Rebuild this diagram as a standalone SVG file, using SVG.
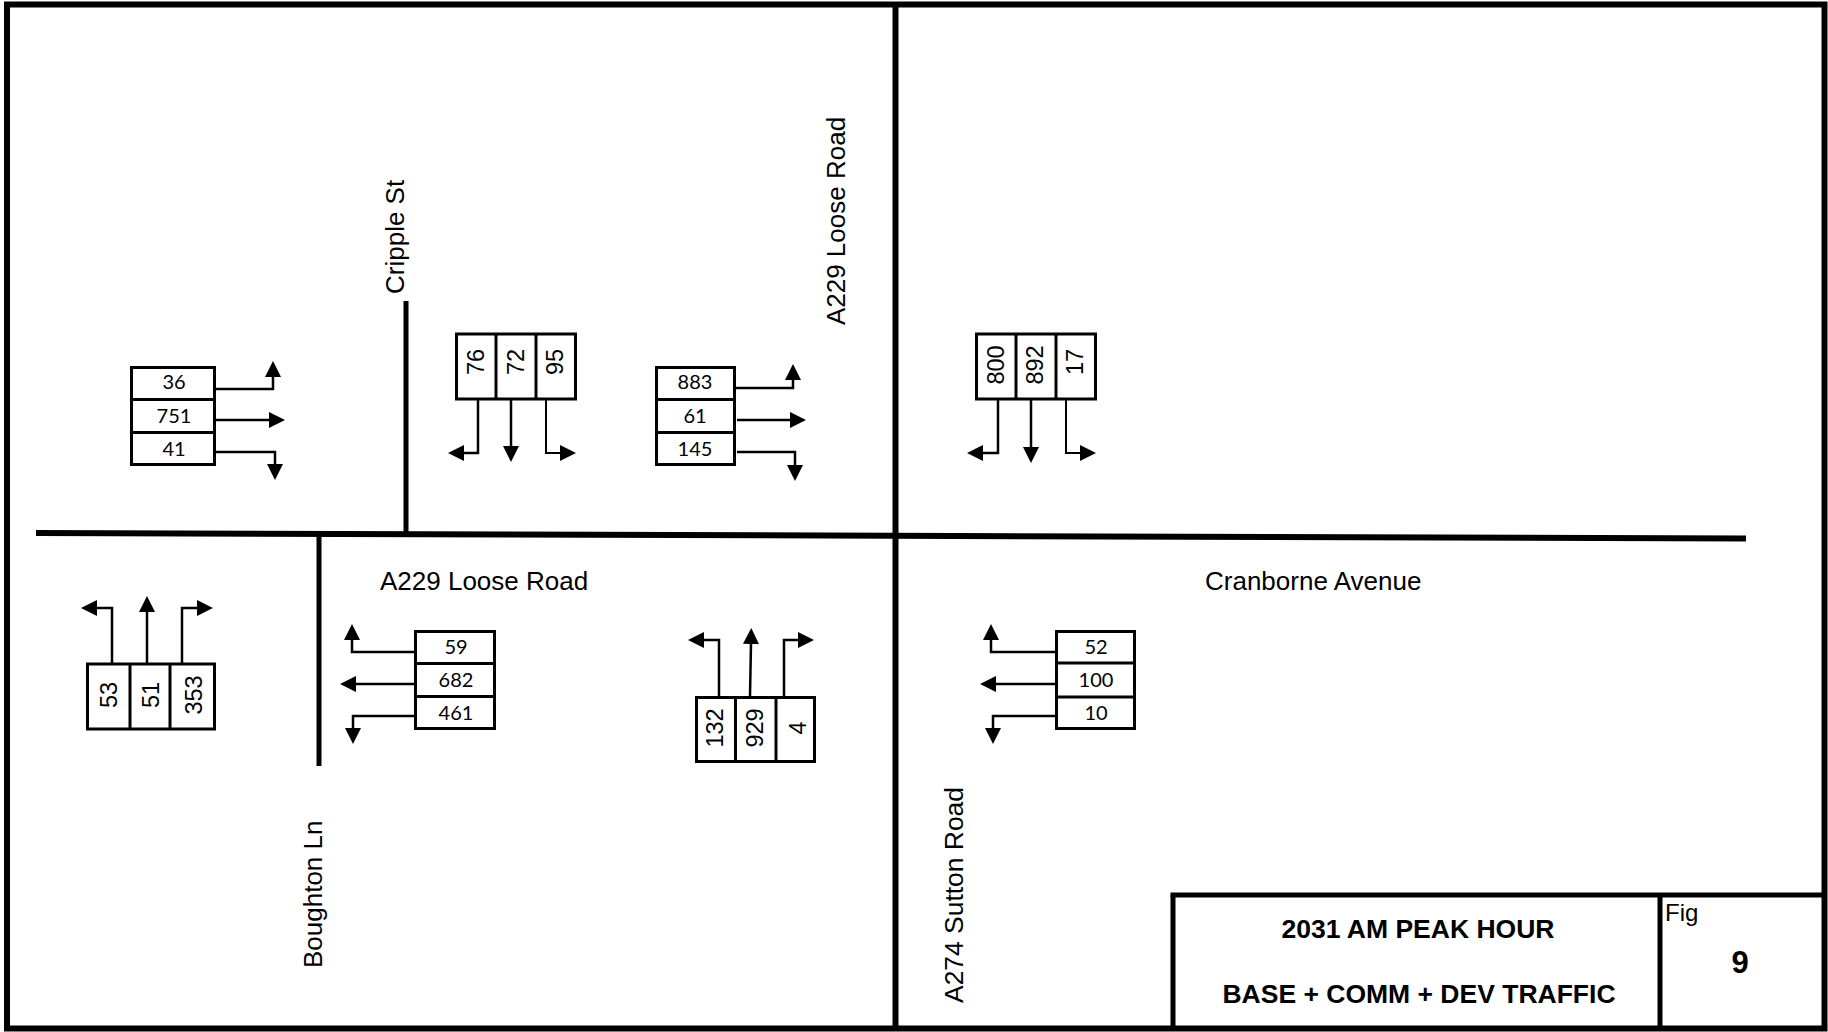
<svg xmlns="http://www.w3.org/2000/svg" width="1828" height="1032" viewBox="0 0 1828 1032">
<style>
.road{stroke:#000;fill:none;stroke-linecap:butt}
.box{fill:#fff;stroke:#000;stroke-width:3}
.div{stroke:#000;stroke-width:3}
.arr{fill:none;stroke:#000;stroke-width:2.5;marker-end:url(#ah)}
.nh{font-family:Lato,"Liberation Sans",sans-serif;font-size:20px;text-anchor:middle;fill:#000}
.nv{font-family:"Liberation Sans",Arial,sans-serif;font-size:23.5px;text-anchor:middle;fill:#000}
.lbl{font-family:"Liberation Sans",Arial,sans-serif;font-size:26px;fill:#000}
.tb{font-family:"Liberation Sans",Arial,sans-serif;font-weight:bold;fill:#000;text-anchor:middle}
</style>
<defs>
<marker id="ah" viewBox="0 0 16 16" refX="1" refY="8" markerWidth="16" markerHeight="16" markerUnits="userSpaceOnUse" orient="auto">
<path d="M0,0 L16,8 L0,16 Z" fill="#000"/>
</marker>
</defs>
<rect width="1828" height="1032" fill="#fff"/>

<g id="roads">
<rect class="road" x="7" y="4.5" width="1817.5" height="1024" stroke-width="6"/>
<line class="road" x1="895.5" y1="4" x2="895.5" y2="1028" stroke-width="6"/>
<line class="road" x1="36" y1="533" x2="1746" y2="538.5" stroke-width="6"/>
<line class="road" x1="406" y1="301" x2="406" y2="533" stroke-width="5"/>
<line class="road" x1="319" y1="536" x2="319" y2="766" stroke-width="5"/>
</g>

<g id="labels">
<text class="lbl" transform="translate(404,294) rotate(-90)">Cripple St</text>
<text class="lbl" transform="translate(845,221) rotate(-90)" text-anchor="middle">A229 Loose Road</text>
<text class="lbl" transform="translate(322,968) rotate(-90)">Boughton Ln</text>
<text class="lbl" transform="translate(963,1003) rotate(-90)" textLength="216" lengthAdjust="spacingAndGlyphs">A274 Sutton Road</text>
<text class="lbl" x="380" y="590">A229 Loose Road</text>
<text class="lbl" x="1205" y="590">Cranborne Avenue</text>
</g>

<g id="box1">
<rect class="box" x="131.5" y="367.5" width="83" height="97"/>
<line class="div" x1="131.5" y1="399.5" x2="214.5" y2="399.5"/>
<line class="div" x1="131.5" y1="432.5" x2="214.5" y2="432.5"/>
<text class="nh" x="174" y="389">36</text>
<text class="nh" x="174" y="423">751</text>
<text class="nh" x="174" y="456">41</text>
</g>

<g id="box2">
<rect class="box" x="456.5" y="334" width="119" height="65"/>
<line class="div" x1="496" y1="334" x2="496" y2="399"/>
<line class="div" x1="536" y1="334" x2="536" y2="399"/>
<text class="nv" transform="translate(475,362) rotate(-90)" y="8.5">76</text>
<text class="nv" transform="translate(515,362) rotate(-90)" y="8.5">72</text>
<text class="nv" transform="translate(554,362) rotate(-90)" y="8.5">95</text>
</g>

<g id="box3">
<rect class="box" x="656.5" y="367.5" width="78" height="97"/>
<line class="div" x1="656.5" y1="399.5" x2="734.5" y2="399.5"/>
<line class="div" x1="656.5" y1="432.5" x2="734.5" y2="432.5"/>
<text class="nh" x="695" y="389">883</text>
<text class="nh" x="695" y="423">61</text>
<text class="nh" x="695" y="456">145</text>
</g>

<g id="box4">
<rect class="box" x="976.5" y="334" width="119" height="65"/>
<line class="div" x1="1016" y1="334" x2="1016" y2="399"/>
<line class="div" x1="1056" y1="334" x2="1056" y2="399"/>
<text class="nv" transform="translate(995,365) rotate(-90)" y="8.5">800</text>
<text class="nv" transform="translate(1034,365) rotate(-90)" y="8.5">892</text>
<text class="nv" transform="translate(1074,362) rotate(-90)" y="8.5">17</text>
</g>

<g id="box5">
<rect class="box" x="87.5" y="664" width="127" height="65"/>
<line class="div" x1="130" y1="664" x2="130" y2="729"/>
<line class="div" x1="170" y1="664" x2="170" y2="729"/>
<text class="nv" transform="translate(108,695) rotate(-90)" y="8.5">53</text>
<text class="nv" transform="translate(150,695) rotate(-90)" y="8.5">51</text>
<text class="nv" transform="translate(193,695) rotate(-90)" y="8.5">353</text>
</g>

<g id="box6">
<rect class="box" x="415.5" y="631.5" width="79" height="97"/>
<line class="div" x1="415.5" y1="663.5" x2="494.5" y2="663.5"/>
<line class="div" x1="415.5" y1="696.5" x2="494.5" y2="696.5"/>
<text class="nh" x="456" y="654">59</text>
<text class="nh" x="456" y="687">682</text>
<text class="nh" x="456" y="720">461</text>
</g>

<g id="box7">
<rect class="box" x="696.5" y="697.5" width="118" height="64"/>
<line class="div" x1="735.5" y1="697.5" x2="735.5" y2="761.5"/>
<line class="div" x1="776" y1="697.5" x2="776" y2="761.5"/>
<text class="nv" transform="translate(714,728) rotate(-90)" y="8.5">132</text>
<text class="nv" transform="translate(754,728) rotate(-90)" y="8.5">929</text>
<text class="nv" transform="translate(797,728) rotate(-90)" y="8.5">4</text>
</g>

<g id="box8">
<rect class="box" x="1056.5" y="631.5" width="78" height="97"/>
<line class="div" x1="1056.5" y1="663" x2="1134.5" y2="663"/>
<line class="div" x1="1056.5" y1="697" x2="1134.5" y2="697"/>
<text class="nh" x="1096" y="654">52</text>
<text class="nh" x="1096" y="687">100</text>
<text class="nh" x="1096" y="720">10</text>
</g>

<g id="connectors">
<path class="arr" d="M216,389 H273 V376"/>
<path class="arr" d="M216,420 H270"/>
<path class="arr" d="M216,452 H275 V465"/>
<path class="arr" d="M478,400 V453 H463"/>
<path class="arr" d="M511,400 V447"/>
<path class="arr" d="M546,398 V453 H561" style="stroke-width:2"/>
<path class="arr" d="M736,388 H793 V379"/>
<path class="arr" d="M737,420 H791"/>
<path class="arr" d="M737,452 H795 V466"/>
<path class="arr" d="M998,400 V453 H982"/>
<path class="arr" d="M1031,400 V448"/>
<path class="arr" d="M1066,398 V453 H1081" style="stroke-width:2"/>
<path class="arr" d="M112,663 V608 H96"/>
<path class="arr" d="M147,663 V611"/>
<path class="arr" d="M182,663 V608 H198"/>
<path class="arr" d="M414,652 H352 V639"/>
<path class="arr" d="M414,684 H355"/>
<path class="arr" d="M414,716 H353 V729"/>
<path class="arr" d="M719,696 V640 H703"/>
<path class="arr" d="M750,696 L751,643"/>
<path class="arr" d="M784,696 V640 H799"/>
<path class="arr" d="M1055,652 H991 V639"/>
<path class="arr" d="M1055,684 H995"/>
<path class="arr" d="M1055,716 H993 V729"/>
</g>

<g id="titleblock">
<line class="road" x1="1173" y1="895" x2="1173" y2="1028" stroke-width="5"/>
<line class="road" x1="1170.5" y1="895" x2="1824" y2="895" stroke-width="5"/>
<line class="road" x1="1660" y1="895" x2="1660" y2="1028" stroke-width="5"/>
<text class="tb" x="1418" y="938" font-size="26.5">2031 AM PEAK HOUR</text>
<text class="tb" x="1419" y="1003" font-size="26.5">BASE + COMM + DEV TRAFFIC</text>
<text class="lbl" x="1665" y="921" style="font-size:24px">Fig</text>
<text class="tb" x="1740" y="973" font-size="31">9</text>
</g>
</svg>
